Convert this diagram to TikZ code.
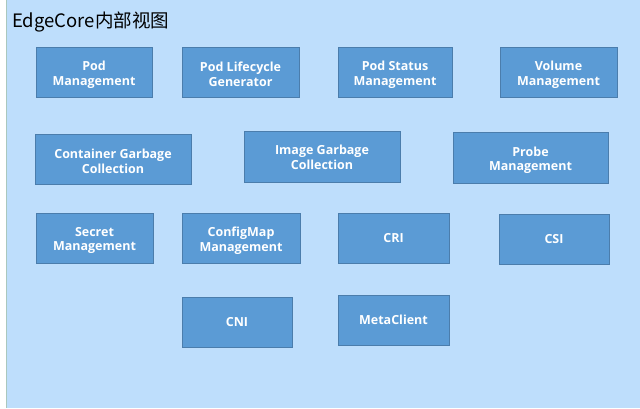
\documentclass[tikz,border=0pt]{standalone}
\usepackage{fontspec}
\setmainfont{Open Sans}
\newfontfamily\cjkfont{Noto Sans CJK SC}
\definecolor{bgblue}{RGB}{190,222,252}
\definecolor{boxfill}{RGB}{91,155,213}
\definecolor{boxline}{RGB}{75,125,172}
\definecolor{edgeline}{RGB}{170,200,190}
\begin{document}
\begin{tikzpicture}[x=1pt,y=-1pt,
  box/.style={draw=boxline, line width=0.6pt, fill=boxfill,
    inner sep=0pt, minimum height=50pt},
  lbl/.style={text=white, font=\fontsize{12.5}{14.5}\selectfont\bfseries,
    align=center, inner sep=0pt}]
\useasboundingbox (0,0) rectangle (640,408);
\fill[white] (0,0) rectangle (640,408);
\fill[bgblue] (6,0) rectangle (640,408);
\draw[edgeline, line width=1pt] (6,0) -- (6,408);
\node[anchor=base west, inner sep=0pt, font=\cjkfont\fontsize{18.5}{22}\selectfont] (title) at (12,27) {EdgeCore内部视图};
% row 1
\node[box, minimum width=116pt] (podm) at (94,72) {};
\node[box, minimum width=117pt] (podlg) at (240.5,72) {};
\node[box, minimum width=114pt] (pods) at (395,72) {};
\node[box, minimum width=117pt] (vol) at (558.5,72) {};
% row 2
\node[box, minimum width=156pt] (cgc) at (113,159) {};
\node[box, minimum width=156pt, minimum height=51pt] (igc) at (322,156.5) {};
\node[box, minimum width=155pt, minimum height=51pt] (probe) at (530.5,157.5) {};
% row 3
\node[box, minimum width=117pt] (secret) at (94.5,238) {};
\node[box, minimum width=118pt] (cfg) at (241,238) {};
\node[box, minimum width=111pt] (cri) at (393.5,238) {};
\node[box, minimum width=110pt] (csi) at (554,239) {};
% row 4
\node[box, minimum width=110pt] (cni) at (237,322) {};
\node[box, minimum width=111pt] (meta) at (393.5,320) {};
% labels
\node[lbl] (podmt) at ([yshift=-2.5pt]podm.center) {Pod\\Management};
\node[lbl] (podlgt) at ([yshift=-2.5pt]podlg.center) {Pod Lifecycle\\Generator};
\node[lbl] (podst) at ([yshift=-2.5pt]pods.center) {Pod Status\\Management};
\node[lbl] (volt) at ([yshift=-2.5pt]vol.center) {Volume\\Management};
\node[lbl] (cgct) at ([yshift=-2.5pt]cgc.center) {Container Garbage\\Collection};
\node[lbl] (igct) at ([yshift=-1pt]igc.center) {Image Garbage\\Collection};
\node[lbl] (probet) at ([yshift=-2.5pt]probe.center) {Probe\\Management};
\node[lbl] (secrett) at ([yshift=-2.5pt]secret.center) {Secret\\Management};
\node[lbl] (cfgt) at ([yshift=-2.5pt]cfg.center) {ConfigMap\\Management};
\node[lbl] (crit) at (cri.center) {CRI};
\node[lbl] (csit) at (csi.center) {CSI};
\node[lbl] (cnit) at (cni.center) {CNI};
\node[lbl] (metat) at (meta.center) {MetaClient};
\end{tikzpicture}
\end{document}
